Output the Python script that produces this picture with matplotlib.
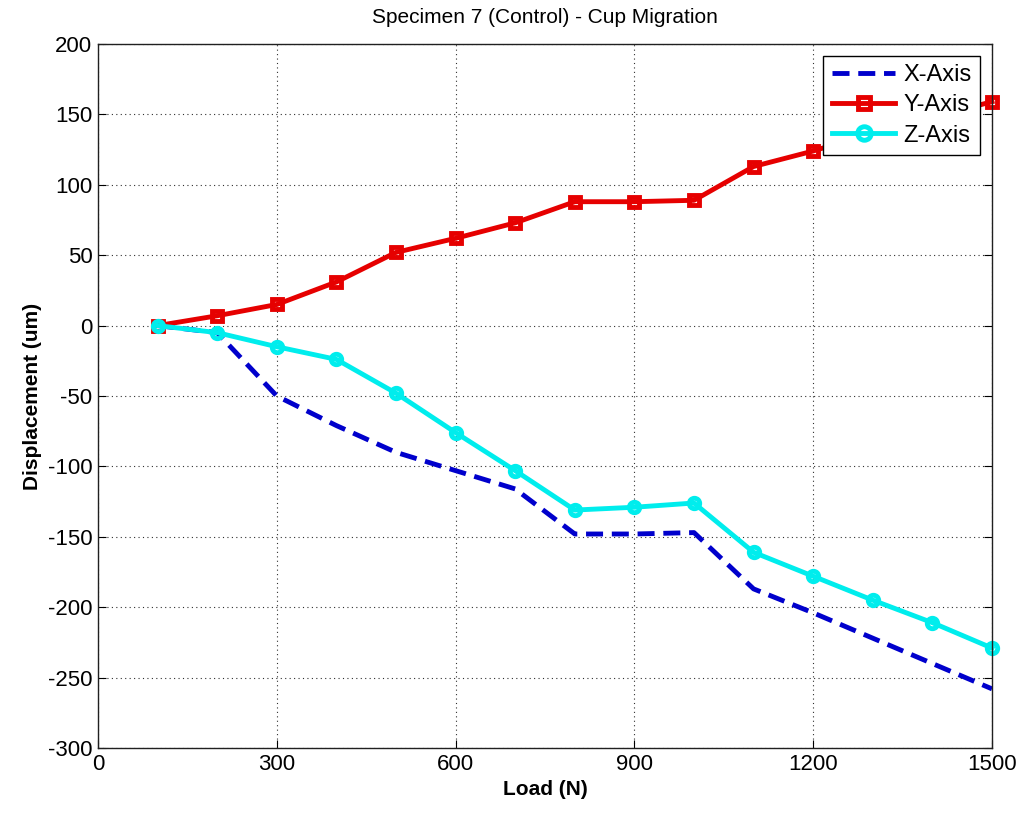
import matplotlib
matplotlib.use("Agg")
import matplotlib.pyplot as plt

plt.rcParams['font.family'] = ['Liberation Sans', 'DejaVu Sans']
plt.rcParams['axes.unicode_minus'] = False

# Load steps (N)
load = [100, 200, 300, 400, 500, 600, 700, 800, 900, 1000, 1100, 1200, 1300, 1400, 1500]

# Displacement (um) per axis
x_axis = [0, -5, -50, -71, -90, -103, -116, -148, -148, -147, -187, -204, -222, -240, -258]
y_axis = [0, 7, 15, 31, 52, 62, 73, 88, 88, 89, 113, 124, 137, 148, 159]
z_axis = [0, -5, -15, -24, -48, -76, -103, -131, -129, -126, -161, -178, -195, -211, -229]

x_ticks = [0, 300, 600, 900, 1200, 1500]
y_ticks = [-300, -250, -200, -150, -100, -50, 0, 50, 100, 150, 200]


def main():
    fig = plt.figure(figsize=(10.23, 8.15), dpi=100)
    ax = fig.add_axes([0.0958, 0.0822, 0.8739, 0.8638])

    ax.plot(load, x_axis, color=(0, 0, 0.8), lw=3.5, ls=(0, (3.5, 1.8)), label='X-Axis')
    ax.plot(load, y_axis, color=(0.9, 0, 0), lw=3.5, marker='s', ms=6.5,
            mfc='none', mew=3.5, label='Y-Axis', clip_on=False)
    ax.plot(load, z_axis, color=(0, 0.93, 0.93), lw=3.5, marker='o', ms=7.5,
            mfc='none', mew=3.5, label='Z-Axis', clip_on=False)

    ax.set_xlim(0, 1500)
    ax.set_ylim(-300, 200)
    ax.set_xticks(x_ticks)
    ax.set_yticks(y_ticks)
    ax.tick_params(direction='in', length=6, labelsize=16, top=False, right=True, pad=4)
    ax.grid(True, ls=(0, (1, 3)), color='#303030', lw=0.8)
    for s in ax.spines.values():
        s.set_linewidth(1.0)
        s.set_color('#202020')

    ax.set_title('Specimen 7 (Control) - Cup Migration', fontsize=15, pad=15)
    ax.set_xlabel('Load (N)', fontsize=15, fontweight='bold', labelpad=4)
    ax.set_ylabel('Displacement (um)', fontsize=15, fontweight='bold', labelpad=4)

    leg = ax.legend(loc='upper right', fontsize=17, fancybox=False, framealpha=1,
                    edgecolor='black', handlelength=2.7, borderaxespad=0.5,
                    labelspacing=0.35, handletextpad=0.35, numpoints=1,
                    borderpad=0.35, markerscale=1.3)
    leg.get_frame().set_linewidth(1.0)
    leg.set_zorder(5)

    fig.savefig('out.png', dpi=100)


if __name__ == "__main__":
    main()
